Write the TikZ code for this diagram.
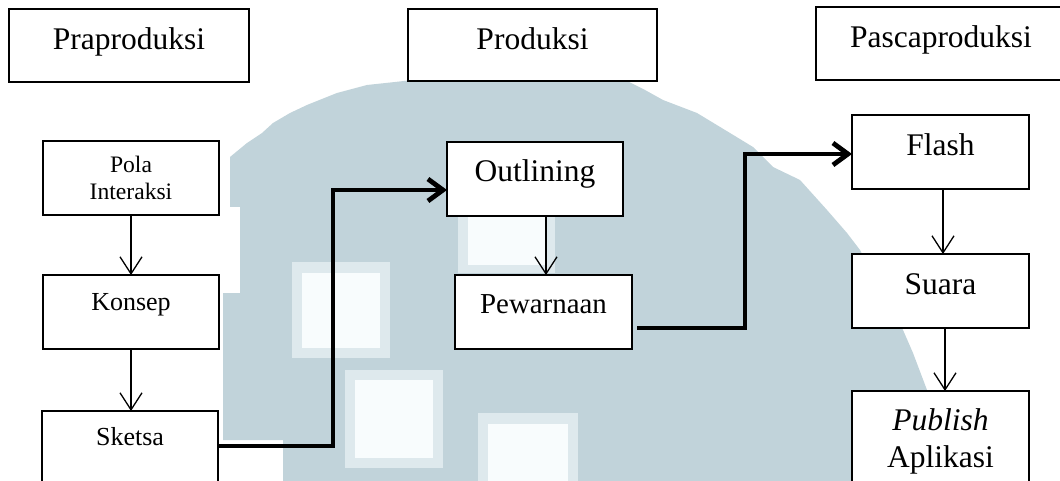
\documentclass[tikz,border=0pt]{standalone}
\usepackage{fontspec}
\setmainfont{Liberation Serif}
\usetikzlibrary{arrows.meta}
\definecolor{wm}{RGB}{193,211,218}
\definecolor{wmlight}{RGB}{222,233,237}
\definecolor{wmwhite}{RGB}{248,252,253}
\tikzset{
  box/.style={draw=black, line width=1.3pt, fill=white, inner sep=0pt, outer sep=0pt},
  bigtxt/.style={font=\fontsize{31.5}{36}\selectfont, inner sep=0pt, anchor=base},
  midtxt/.style={font=\fontsize{28.9}{33}\selectfont, inner sep=0pt, anchor=base},
  smalltxt/.style={font=\fontsize{26}{30}\selectfont, inner sep=0pt, anchor=base},
  tinytxt/.style={font=\fontsize{23.6}{27}\selectfont, inner sep=0pt, anchor=base},
  thinarrow/.style={line width=1.3pt, -{Straight Barb[length=17pt,width=22pt]}},
  thickarrow/.style={line width=4.8pt, line join=miter, -{Straight Barb[length=15pt,width=22pt]}},
}
\begin{document}
\begin{tikzpicture}[x=1pt,y=-1pt]
\useasboundingbox (0,0) rectangle (1060,481);
\fill[white] (0,0) rectangle (1060,481);
% watermark
\fill[wm] (283,481) -- (283,440) -- (223,440) -- (223,293) -- (240,293) -- (240,207)
  -- (230,207) -- (230,157) -- (247,143) -- (262,133) -- (273,123) -- (290,113)
  -- (307,105) -- (337,93) -- (367,85) -- (395,82) -- (413,80) -- (625,80)
  -- (645,90) -- (663,100) -- (697,113) -- (730,133) -- (753,147) -- (773,167)
  -- (800,180) -- (827,210) -- (847,233) -- (860,250) -- (880,290) -- (903,330)
  -- (913,353) -- (927,390) -- (937,430) -- (945,481) -- cycle;
\fill[wmlight] (292,262) rectangle (390,358);
\fill[wmwhite] (302,273) rectangle (380,348);
\fill[wmlight] (345,370) rectangle (443,468);
\fill[wmwhite] (355,380) rectangle (433,458);
\fill[wmlight] (478,413) rectangle (578,481);
\fill[wmwhite] (488,424) rectangle (568,481);
\fill[wmlight] (458,200) rectangle (555,273);
\fill[wmwhite] (468,200) rectangle (547,265);
% header boxes
\node[box, minimum width=240pt, minimum height=73pt] (pra) at (129,45.5) {};
\node[box, minimum width=249pt, minimum height=72pt] (prod) at (532.5,45) {};
\node[box, minimum width=252pt, minimum height=73pt] (pasca) at (942,43.5) {};
\node[bigtxt] (praT) at (129,50) {Praproduksi};
\node[bigtxt] (prodT) at (532.5,50) {Produksi};
\node[bigtxt] (pascaT) at (941,48) {Pascaproduksi};
% column 1
\node[box, minimum width=176pt, minimum height=74pt] (pola) at (131,178) {};
\node[box, minimum width=176pt, minimum height=74pt] (konsep) at (131,312) {};
\node[box, minimum width=176pt, minimum height=89pt] (sketsa) at (130,455.5) {};
\node[tinytxt] (polaT1) at (131,173) {Pola};
\node[tinytxt] (polaT2) at (131,200) {Interaksi};
\node[smalltxt] (konsepT) at (131,310) {Konsep};
\node[smalltxt] (sketsaT) at (130,445) {Sketsa};
% column 2
\node[box, minimum width=176pt, minimum height=74pt] (outl) at (535,179) {};
\node[box, minimum width=177pt, minimum height=74pt] (pew) at (543.5,312) {};
\node[bigtxt] (outlT) at (535,182) {Outlining};
\node[midtxt] (pewT) at (543.5,313) {Pewarnaan};
% column 3
\node[box, minimum width=177pt, minimum height=74pt] (flash) at (940.5,152) {};
\node[box, minimum width=177pt, minimum height=74pt] (suara) at (940.5,291) {};
\node[box, minimum width=177pt, minimum height=109pt] (pub) at (940.5,445.5) {};
\node[bigtxt] (flashT) at (940.5,156) {Flash};
\node[bigtxt] (suaraT) at (940.5,294) {Suara};
\node[bigtxt] (pubT1) at (940.5,430) {\textit{Publish}};
\node[bigtxt] (pubT2) at (940.5,467) {Aplikasi};
% thin arrows
\draw[thinarrow] (pola.south) -- (pola.south |- konsep.north);
\draw[thinarrow] (konsep.south) -- (konsep.south |- sketsa.north);
\draw[thinarrow] (outl.south -| 546,0) -- (pew.north -| 546,0);
\draw[thinarrow] (flash.south -| 943,0) -- (suara.north -| 943,0);
\draw[thinarrow] (suara.south -| 945,0) -- (pub.north -| 945,0);
% thick arrows
\draw[thickarrow] (sketsa.east |- 0,446) -| (333,190) -- (outl.west |- 0,190);
\draw[thickarrow] ([xshift=5pt]pew.east |- 0,328) -| (745,154) -- (flash.west |- 0,154);
\end{tikzpicture}
\end{document}
